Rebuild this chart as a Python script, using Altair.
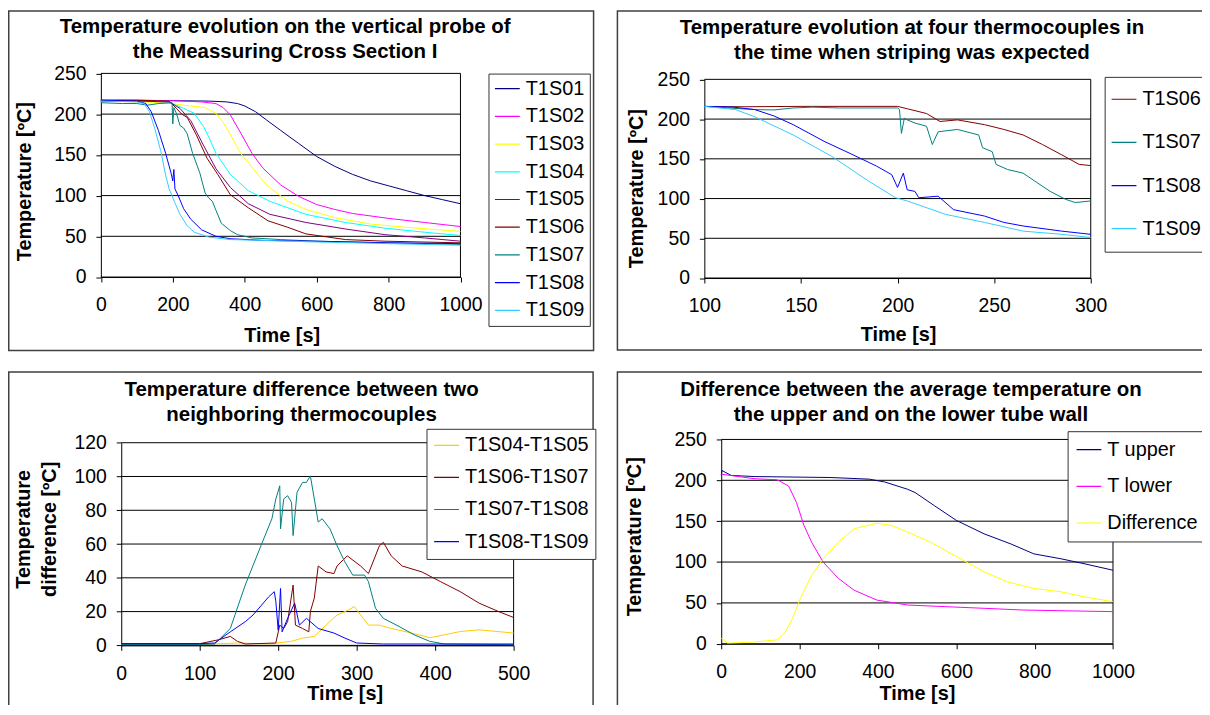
import altair as alt
import pandas as pd

FONT = "Liberation Sans"

# ---------------- Panel 1: vertical probe, 0-1000 s ----------------
P1_NAMES = ["T1S01", "T1S02", "T1S03", "T1S04", "T1S05", "T1S06", "T1S07", "T1S08", "T1S09"]
P1_COLORS = ["#000080", "#FF00FF", "#FFFF00", "#00FFFF", "#800080", "#800000", "#008080", "#0000FF", "#33CCFF"]

T1S01_t = [0, 100, 200, 300, 350, 380, 400, 430, 460, 500, 550, 600, 650, 700, 750, 800, 850, 900, 950, 1000]
T1S01_v = [217, 217, 216.5, 216, 215, 213, 210, 203, 193, 180, 164, 148, 136, 126, 118, 112, 106, 100, 95, 90]
T1S02_t = [0, 100, 200, 280, 320, 340, 360, 390, 420, 450, 500, 550, 600, 650, 700, 800, 900, 1000]
T1S02_v = [217, 217, 216.5, 215, 213, 208, 199, 176, 152, 134, 113, 99, 89, 83, 78, 72, 67, 62]
T1S03_t = [0, 100, 180, 230, 290, 320, 340, 360, 390, 420, 460, 520, 570, 650, 750, 850, 1000]
T1S03_v = [216, 215, 214, 211, 208, 201, 190, 175, 151, 135, 113, 93, 83, 73, 65, 61, 56]
T1S04_t = [0, 100, 180, 200, 230, 260, 285, 300, 320, 360, 410, 470, 570, 680, 790, 900, 1000]
T1S04_v = [216, 216, 215, 213, 207, 201, 185, 172, 152, 126, 106, 93, 77, 67, 60, 55, 51]
T1S05_t = [0, 100, 190, 220, 250, 285, 320, 360, 410, 470, 570, 680, 790, 900, 1000]
T1S05_v = [216, 216, 215, 207, 192, 162, 133, 110, 90, 77, 67, 59, 52, 48, 44]
T1S06_t = [0, 100, 190, 210, 225, 240, 265, 295, 325, 360, 410, 465, 520, 570, 680, 790, 1000]
T1S06_v = [217, 217, 216, 207, 200, 196, 175, 146, 126, 101, 85, 69, 61, 53, 46, 44, 42]
T1S07_t = [0, 60, 100, 130, 160, 198, 200, 203, 210, 220, 230, 240, 255, 275, 290, 300, 310, 320, 335, 360, 380, 420, 500, 600, 800, 1000]
T1S07_v = [214, 213, 213, 211, 213, 214, 188, 208, 201, 186, 183, 176, 152, 128, 103, 97, 93, 82, 66, 57, 52, 48, 46, 44, 42, 40]
T1S08_t = [0, 100, 125, 140, 160, 180, 195, 200, 203, 206, 215, 230, 250, 280, 320, 360, 450, 600, 800, 1000]
T1S08_v = [217, 216, 213, 203, 180, 152, 128, 118, 132, 108, 100, 84, 71, 58, 50, 47, 45, 44, 42, 41]
T1S09_t = [0, 100, 120, 135, 150, 167, 180, 190, 205, 220, 240, 260, 300, 360, 450, 600, 800, 1000]
T1S09_v = [216, 215, 213, 203, 182, 154, 125, 108, 92, 77, 63, 55, 49, 46, 45, 43, 41, 39]

# ---------------- Panel 2: four thermocouples, 100-300 s ----------------
P2_NAMES = ["T1S06", "T1S07", "T1S08", "T1S09"]
P2_COLORS = ["#800000", "#008080", "#0000FF", "#33CCFF"]
P2_S06_t = [100, 120, 150, 180, 200, 205, 215, 222, 231, 245, 255, 265, 275, 285, 294, 300]
P2_S06_v = [216, 215.5, 216, 216, 216, 213, 207, 197, 199, 193, 187, 180, 168, 155, 143, 141.5]
P2_S07_t = [100, 112, 126, 136, 146, 156, 170, 190, 200, 201, 202, 203.5, 205, 209, 215, 218, 221, 231, 242, 244, 249, 251, 257, 265, 271, 279, 287, 292, 300]
P2_S07_v = [216, 214, 212, 211.5, 214, 215, 214, 214, 214, 212, 182, 201, 199, 195, 191, 168, 184, 187, 180, 164, 159, 143, 136.5, 132, 122, 109, 99, 95, 97]
P2_S08_t = [100, 115, 126, 136, 146, 162, 177, 189, 197, 200, 203, 205, 209, 211, 221, 229, 245, 255, 265, 285, 300]
P2_S08_v = [216, 215, 212, 204, 193, 172, 155, 141, 130, 114, 132, 111, 109, 101, 103, 86, 78, 70, 65.5, 59, 55]
P2_S09_t = [100, 116, 126, 146, 166, 185, 199, 205, 225, 245, 265, 285, 300]
P2_S09_v = [216, 212, 203, 180, 153, 122, 101, 97, 80, 70, 59, 55, 51]

# ---------------- Panel 3: neighbour differences, 0-500 s ----------------
P3_NAMES = ["T1S04-T1S05", "T1S06-T1S07", "T1S07-T1S08", "T1S08-T1S09"]
P3_COLORS = ["#FFCC00", "#800000", "#008080", "#0000FF"]
D45_t = [0, 100, 148, 188, 217, 231, 246, 261, 275, 290, 297, 305, 315, 329, 344, 373, 393, 412, 432, 456, 500]
D45_v = [0.5, 0.5, 1.4, 0.8, 2.4, 4.3, 5.3, 12, 18, 21, 23, 18, 12, 12, 10, 7, 4.5, 6.3, 8.2, 9.2, 7.3]
D67_t = [0, 100, 124, 139, 148, 158, 197, 202, 207, 212, 219, 222, 231, 239, 241, 246, 251, 261, 271, 275, 288, 305, 315, 329, 334, 344, 358, 383, 407, 432, 456, 471, 481, 500]
D67_v = [1, 1, 3.3, 5.3, 2.4, 0.8, 1.4, 12, 10, 14, 35.7, 12, 10, 8, 20, 28, 47, 43.5, 42.5, 47, 53, 47, 42.5, 59, 61, 53, 47, 43.5, 37.7, 31.8, 25, 22, 20, 16.5]
D78_t = [0, 100, 119, 139, 158, 178, 192, 197, 202, 203, 207, 212, 217, 219, 224, 231, 236, 241, 246, 251, 256, 266, 275, 285, 295, 310, 315, 324, 334, 354, 373, 393, 412, 500]
D78_v = [0.5, 0.5, 0.8, 10, 35.7, 59, 75, 86.7, 94.5, 69, 86.7, 88.6, 84.7, 65, 90.6, 96.5, 96.5, 100.4, 86.7, 73, 75, 69, 59, 49.4, 41.6, 41.6, 37.7, 22, 16, 11.2, 6.3, 2.4, 0.8, 0.4]
D89_t = [0, 100, 119, 139, 158, 168, 188, 195, 197, 200, 203, 205, 212, 221, 227, 236, 251, 271, 285, 300, 334, 500]
D89_v = [1, 1, 1.4, 8, 14, 18, 28.8, 31.8, 26, 9, 33.7, 8, 16, 25, 12, 16, 10, 7.3, 4.3, 1.4, 0.8, 0.8]

# ---------------- Panel 4: upper / lower wall, 0-1000 s ----------------
P4_NAMES = ["T upper", "T lower", "Difference"]
P4_COLORS = ["#000080", "#FF00FF", "#FFFF00"]
TU_t = [0, 2, 25, 84, 280, 378, 417, 476, 495, 544, 600, 671, 740, 798, 867, 926, 1000]
TU_v = [206, 212, 206, 204.6, 203.4, 201.4, 198, 189, 185, 169, 151, 134.5, 122, 110, 104, 98, 90]
TL_t = [0, 84, 143, 172, 192, 211, 231, 260, 299, 339, 397, 476, 573, 671, 769, 1000]
TL_v = [207.5, 202, 200.6, 193, 173, 145, 124, 100, 80, 65.6, 53.5, 47.4, 45.4, 43.4, 41.3, 39.3]
DF_t = [0, 16, 84, 143, 162, 182, 202, 231, 260, 299, 339, 397, 436, 476, 534, 603, 671, 730, 798, 867, 926, 1000]
DF_v = [6.9, 0.8, 2, 4.9, 13, 31, 55.5, 84, 104, 124.4, 140.6, 147.5, 144.7, 136.5, 124.4, 106, 88, 75.8, 67.7, 63.6, 57.5, 51.5]

W, H = 1202, 697


def long_df(series):
    rows = []
    for name, ts, vs in series:
        for t, v in zip(ts, vs):
            rows.append({"series": name, "t": t, "v": v})
    return pd.DataFrame(rows)


def panel(df, names, colors, xdom, xvals, xrange, ydom, yvals, yrange,
          xtx, xty, ytitle, ytx, yty, frame, leg, title, tx, ty):
    xs = alt.Scale(domain=xdom, range=xrange, nice=False, zero=False)
    ys = alt.Scale(domain=ydom, range=yrange, nice=False, zero=False)
    xax = alt.Axis(orient="bottom", offset=yrange[0] - H, values=xvals, grid=False,
                   title="Time [s]", format="d", titleX=xtx, titleY=xty,
                   titleBaseline="middle", titleAlign="center")
    yax = alt.Axis(orient="left", offset=-xrange[0], values=yvals, grid=False,
                   title=ytitle, format="d", titleX=ytx, titleY=yty,
                   titleBaseline="middle", titleAlign="center", titleLineHeight=26)
    one = alt.Data(values=[{"k": 1}])
    fx1, fx2, fy1, fy2 = frame
    box = alt.Chart(one).mark_rect(filled=False, stroke="#404040", strokeWidth=1.5).encode(
        x=alt.value(fx1), x2=alt.value(fx2), y=alt.value(fy1), y2=alt.value(fy2))
    grid = alt.Chart(pd.DataFrame({"v": yvals})).mark_rule(color="black", strokeWidth=1).encode(
        x=alt.X(datum=xdom[0], type="quantitative", scale=xs, axis=xax),
        x2=alt.X2(datum=xdom[1]),
        y=alt.Y("v:Q", scale=ys, axis=yax))
    edge = alt.Chart(one).mark_rule(color="black", strokeWidth=1).encode(
        x=alt.X(datum=xdom[1], type="quantitative", scale=xs, axis=xax),
        y=alt.Y(datum=ydom[0], type="quantitative", scale=ys, axis=yax),
        y2=alt.Y2(datum=ydom[1]))
    lx, ly, lpad, lrow, lclip = leg
    lines = alt.Chart(df).mark_line(strokeWidth=1).encode(
        x=alt.X("t:Q", scale=xs, axis=xax),
        y=alt.Y("v:Q", scale=ys, axis=yax),
        color=alt.Color("series:N", scale=alt.Scale(domain=names, range=colors),
                        legend=alt.Legend(title=None, orient="none", legendX=lx, legendY=ly,
                                          padding=lpad, rowPadding=lrow, clipHeight=lclip)),
    )
    head = alt.Chart(one).mark_text(
        text=title, align="center", baseline="alphabetic", font=FONT, fontSize=20.6,
        fontWeight="bold", color="black", lineHeight=25,
    ).encode(x=alt.value(tx), y=alt.value(ty))
    return alt.layer(box, grid, edge, lines, head)


df1 = long_df([
    ("T1S01", T1S01_t, T1S01_v), ("T1S02", T1S02_t, T1S02_v), ("T1S03", T1S03_t, T1S03_v),
    ("T1S04", T1S04_t, T1S04_v), ("T1S05", T1S05_t, T1S05_v), ("T1S06", T1S06_t, T1S06_v),
    ("T1S07", T1S07_t, T1S07_v), ("T1S08", T1S08_t, T1S08_v), ("T1S09", T1S09_t, T1S09_v),
])
df2 = long_df([
    ("T1S06", P2_S06_t, P2_S06_v), ("T1S07", P2_S07_t, P2_S07_v),
    ("T1S08", P2_S08_t, P2_S08_v), ("T1S09", P2_S09_t, P2_S09_v),
])
df3 = long_df([
    ("T1S04-T1S05", D45_t, D45_v), ("T1S06-T1S07", D67_t, D67_v),
    ("T1S07-T1S08", D78_t, D78_v), ("T1S08-T1S09", D89_t, D89_v),
])
df4 = long_df([
    ("T upper", TU_t, TU_v), ("T lower", TL_t, TL_v), ("Difference", DF_t, DF_v),
])

T250 = [0, 50, 100, 150, 200, 250]
p1 = panel(df1, P1_NAMES, P1_COLORS, [0, 1000], [0, 200, 400, 600, 800, 1000], [93.5, 455.5],
           [0, 250], T250, [268.5, 63.5],
           275.5, 58.5, "Temperature [ºC]", -76.5, 172,
           (0.75, 589.5, 0.75, 342.5), (483.7, 63.7, 5.5, 6.9, 19.3),
           ["Temperature evolution  on the vertical probe of", "the Meassuring Cross Section I"], 279, 23)
p2 = panel(df2, P2_NAMES, P2_COLORS, [100, 300], [100, 150, 200, 250, 300], [701, 1090],
           [0, 250], T250, [269.5, 69.5],
           896, 56.5, "Temperature [ºC]", -68.3, 179,
           (613.5, 1220, 0.75, 342), (1104, 67, 6, 10.45, 33),
           ["Temperature evolution at four thermocouples in", "the time when striping was expected"], 910, 23.7)
p3 = panel(df3, P3_NAMES, P3_COLORS, [0, 500], [0, 100, 200, 300, 400, 500], [114, 509],
           [0, 120], [0, 20, 40, 60, 80, 100, 120], [639.3, 435.3],
           339, 48.7, ["Temperature", "difference [ºC]"], -98, 522,
           (0.75, 589, 364, 720), (421.3, 421.3, 6.7, 11.3, 19.9),
           ["Temperature difference between two", "neighboring thermocouples"], 295.5, 388)
p4 = panel(df4, P4_NAMES, P4_COLORS, [0, 1000], [0, 200, 400, 600, 800, 1000], [718, 1112.4],
           [0, 250], T250, [637.7, 432],
           915, 50.3, "Temperature [ºC]", -87.2, 529.5,
           (613.5, 1220, 364, 720), (1066.7, 423.7, 8, 14.9, 21.2),
           ["Difference between the average temperature on", "the upper and on the lower tube wall"], 909, 388)

chart = alt.layer(p1, p2, p3, p4).resolve_scale(
    x="independent", y="independent", color="independent"
).resolve_axis(
    x="independent", y="independent"
).resolve_legend(
    color="independent"
).properties(
    width=W, height=H, padding=0, autosize=alt.AutoSizeParams(type="none")
).configure_axis(
    labelFont=FONT, labelFontSize=19.5, labelColor="black",
    titleFont=FONT, titleFontSize=20, titleFontWeight="bold", titleColor="black",
    domainColor="black", tickColor="black", tickSize=5,
    labelFlush=False, labelOverlap=False,
).configure_axisX(labelPadding=14).configure_axisY(labelPadding=10).configure_view(
    stroke="transparent"
).configure_legend(
    labelFont=FONT, labelFontSize=20, labelColor="black", symbolType="stroke",
    symbolSize=625, symbolStrokeWidth=1.2, strokeColor="#333333", fillColor="white",
    labelOffset=5,
)

chart.save("out.html", embed_options={"renderer": "svg", "actions": False})
